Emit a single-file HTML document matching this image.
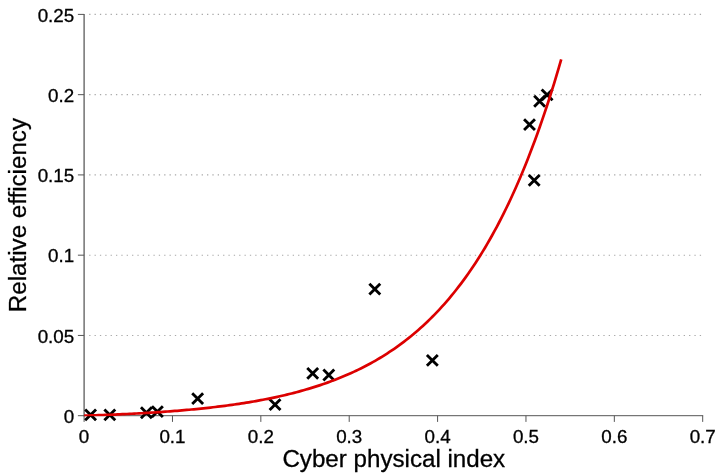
<!DOCTYPE html>
<html><head><meta charset="utf-8"><title>Chart</title>
<style>
html,body{margin:0;padding:0;background:#fff;}
body{width:720px;height:476px;overflow:hidden;}
svg{display:block;}
text{font-family:"Liberation Sans",Arial,Helvetica,sans-serif;fill:#000;stroke:#000;stroke-width:0.3px;}
.t{font-size:18.8px;}
.l{font-size:24.15px;}
</style></head><body>
<svg width="720" height="476" viewBox="0 0 720 476">
<rect width="720" height="476" fill="#fff"/>
<line x1="89.18" x2="702.7" y1="335.44" y2="335.44" stroke="#a8a8a8" stroke-width="1.1" stroke-dasharray="1.3 4.056"/>
<line x1="89.18" x2="702.7" y1="255.18" y2="255.18" stroke="#a8a8a8" stroke-width="1.1" stroke-dasharray="1.3 4.056"/>
<line x1="89.18" x2="702.7" y1="174.92" y2="174.92" stroke="#a8a8a8" stroke-width="1.1" stroke-dasharray="1.3 4.056"/>
<line x1="89.18" x2="702.7" y1="94.66" y2="94.66" stroke="#a8a8a8" stroke-width="1.1" stroke-dasharray="1.3 4.056"/>
<line x1="89.18" x2="702.7" y1="14.40" y2="14.40" stroke="#a8a8a8" stroke-width="1.1" stroke-dasharray="1.3 4.056"/>
<g stroke="#555" stroke-width="1" fill="none">
<path d="M84.1,13.90V416.20" stroke-width="1.25"/><path d="M83.5,415.7H703.20"/>
<path d="M84.10,415.7v6.2M172.47,415.7v6.2M260.84,415.7v6.2M349.21,415.7v6.2M437.59,415.7v6.2M525.96,415.7v6.2M614.33,415.7v6.2M702.70,415.7v6.2M84.1,415.70h-6.2M84.1,335.44h-6.2M84.1,255.18h-6.2M84.1,174.92h-6.2M84.1,94.66h-6.2M84.1,14.40h-6.2"/>
</g>
<text class="t" x="84.10" y="442.9" text-anchor="middle">0</text>
<text class="t" x="172.47" y="442.9" text-anchor="middle">0.1</text>
<text class="t" x="260.84" y="442.9" text-anchor="middle">0.2</text>
<text class="t" x="349.21" y="442.9" text-anchor="middle">0.3</text>
<text class="t" x="437.59" y="442.9" text-anchor="middle">0.4</text>
<text class="t" x="525.96" y="442.9" text-anchor="middle">0.5</text>
<text class="t" x="614.33" y="442.9" text-anchor="middle">0.6</text>
<text class="t" x="702.70" y="442.9" text-anchor="middle">0.7</text>
<text class="t" x="74.2" y="422.95" text-anchor="end">0</text>
<text class="t" x="74.2" y="342.69" text-anchor="end">0.05</text>
<text class="t" x="74.2" y="262.43" text-anchor="end">0.1</text>
<text class="t" x="74.2" y="182.17" text-anchor="end">0.15</text>
<text class="t" x="74.2" y="101.91" text-anchor="end">0.2</text>
<text class="t" x="74.2" y="21.65" text-anchor="end">0.25</text>
<text class="l" x="393.8" y="466.7" text-anchor="middle">Cyber physical index</text>
<text class="l" transform="translate(25.7,215.1) rotate(-90)" text-anchor="middle">Relative efficiency</text>
<path d="M85.15,409.45L96.05,420.35M85.15,420.35L96.05,409.45M104.35,409.45L115.25,420.35M104.35,420.35L115.25,409.45M140.95,407.35L151.85,418.25M140.95,418.25L151.85,407.35M151.95,406.15L162.85,417.05M151.95,417.05L162.85,406.15M192.20,393.15L203.10,404.05M192.20,404.05L203.10,393.15M269.60,399.15L280.50,410.05M269.60,410.05L280.50,399.15M307.25,367.90L318.15,378.80M307.25,378.80L318.15,367.90M323.35,369.60L334.25,380.50M323.35,380.50L334.25,369.60M369.35,283.65L380.25,294.55M369.35,294.55L380.25,283.65M426.90,354.95L437.80,365.85M426.90,365.85L437.80,354.95M528.75,174.95L539.65,185.85M528.75,185.85L539.65,174.95M524.05,119.15L534.95,130.05M524.05,130.05L534.95,119.15M534.15,95.85L545.05,106.75M534.15,106.75L545.05,95.85M541.65,89.45L552.55,100.35M541.65,100.35L552.55,89.45" stroke="#000" stroke-width="2.85" fill="none"/>
<clipPath id="c"><rect x="84.1" y="0" width="640" height="416.3"/></clipPath>
<path d="M84.10,415.70 L86.49,415.62 L88.87,415.55 L91.26,415.47 L93.64,415.38 L96.03,415.30 L98.41,415.21 L100.80,415.12 L103.18,415.03 L105.57,414.94 L107.96,414.84 L110.34,414.75 L112.73,414.65 L115.11,414.54 L117.50,414.44 L119.88,414.33 L122.27,414.22 L124.65,414.11 L127.04,413.99 L129.43,413.87 L131.81,413.75 L134.20,413.62 L136.58,413.50 L138.97,413.37 L141.35,413.23 L143.74,413.09 L146.13,412.95 L148.51,412.81 L150.90,412.66 L153.28,412.51 L155.67,412.35 L158.05,412.19 L160.44,412.03 L162.82,411.86 L165.21,411.69 L167.60,411.52 L169.98,411.34 L172.37,411.16 L174.75,410.97 L177.14,410.78 L179.52,410.58 L181.91,410.38 L184.29,410.17 L186.68,409.96 L189.07,409.74 L191.45,409.52 L193.84,409.29 L196.22,409.06 L198.61,408.82 L200.99,408.58 L203.38,408.33 L205.76,408.08 L208.15,407.82 L210.54,407.55 L212.92,407.28 L215.31,407.00 L217.69,406.71 L220.08,406.42 L222.46,406.12 L224.85,405.81 L227.24,405.49 L229.62,405.17 L232.01,404.84 L234.39,404.50 L236.78,404.16 L239.16,403.80 L241.55,403.44 L243.93,403.07 L246.32,402.69 L248.71,402.30 L251.09,401.90 L253.48,401.49 L255.86,401.07 L258.25,400.64 L260.63,400.20 L263.02,399.75 L265.40,399.29 L267.79,398.82 L270.18,398.34 L272.56,397.85 L274.95,397.34 L277.33,396.83 L279.72,396.30 L282.10,395.75 L284.49,395.20 L286.87,394.63 L289.26,394.05 L291.65,393.45 L294.03,392.84 L296.42,392.22 L298.80,391.58 L301.19,390.92 L303.57,390.25 L305.96,389.57 L308.35,388.86 L310.73,388.14 L313.12,387.41 L315.50,386.66 L317.89,385.89 L320.27,385.10 L322.66,384.29 L325.04,383.46 L327.43,382.62 L329.82,381.75 L332.20,380.86 L334.59,379.96 L336.97,379.03 L339.36,378.08 L341.74,377.10 L344.13,376.11 L346.51,375.09 L348.90,374.04 L351.29,372.98 L353.67,371.88 L356.06,370.76 L358.44,369.62 L360.83,368.45 L363.21,367.25 L365.60,366.02 L367.98,364.76 L370.37,363.47 L372.76,362.16 L375.14,360.81 L377.53,359.42 L379.91,358.00 L382.30,356.55 L384.68,355.06 L387.07,353.54 L389.46,351.99 L391.84,350.39 L394.23,348.76 L396.61,347.09 L399.00,345.39 L401.38,343.64 L403.77,341.85 L406.15,340.02 L408.54,338.15 L410.93,336.23 L413.31,334.27 L415.70,332.26 L418.08,330.21 L420.47,328.10 L422.85,325.94 L425.24,323.72 L427.62,321.45 L430.01,319.13 L432.40,316.76 L434.78,314.33 L437.17,311.84 L439.55,309.30 L441.94,306.70 L444.32,304.03 L446.71,301.31 L449.09,298.52 L451.48,295.67 L453.87,292.75 L456.25,289.76 L458.64,286.70 L461.02,283.57 L463.41,280.37 L465.79,277.10 L468.18,273.75 L470.57,270.31 L472.95,266.80 L475.34,263.19 L477.72,259.51 L480.11,255.74 L482.49,251.88 L484.88,247.94 L487.26,243.90 L489.65,239.76 L492.04,235.53 L494.42,231.21 L496.81,226.78 L499.19,222.25 L501.58,217.61 L503.96,212.87 L506.35,208.01 L508.73,203.05 L511.12,197.97 L513.51,192.77 L515.89,187.45 L518.28,182.01 L520.66,176.44 L523.05,170.75 L525.43,164.92 L527.82,158.95 L530.20,152.85 L532.59,146.60 L534.98,140.21 L537.36,133.68 L539.75,127.01 L542.13,120.18 L544.52,113.18 L546.90,106.03 L549.29,98.71 L551.67,91.21 L554.06,83.55 L556.45,75.70 L558.83,67.67 L561.22,59.45" stroke="#dc0000" stroke-width="2.7" fill="none" stroke-linejoin="round" clip-path="url(#c)"/>
</svg>
</body></html>
